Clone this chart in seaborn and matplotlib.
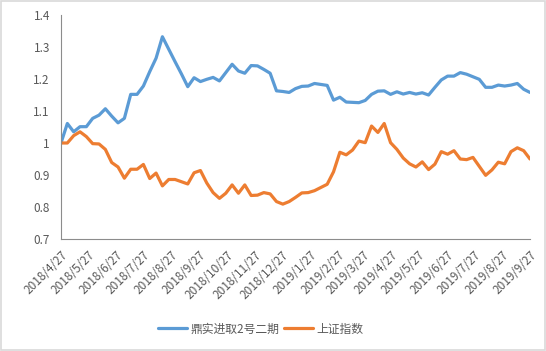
import pandas as pd
import matplotlib.pyplot as plt
import matplotlib.dates as mdates
from matplotlib.patches import Rectangle
import seaborn as sns

# weekly values, 2018/4/27 .. 2019/9/27 (75 Fridays)
start_date = "2018-04-27"
n_weeks = 75

fund = [1.000, 1.061, 1.035, 1.051, 1.051, 1.077, 1.087, 1.107, 1.084, 1.063,
        1.077, 1.152, 1.152, 1.178, 1.223, 1.265, 1.332, 1.293, 1.254, 1.216,
        1.176, 1.204, 1.192, 1.199, 1.205, 1.194, 1.220, 1.246, 1.225, 1.218,
        1.242, 1.241, 1.230, 1.218, 1.163, 1.161, 1.158, 1.170, 1.177, 1.178,
        1.186, 1.183, 1.180, 1.134, 1.143, 1.128, 1.127, 1.126, 1.133, 1.152,
        1.162, 1.163, 1.152, 1.160, 1.153, 1.158, 1.153, 1.157, 1.150, 1.174,
        1.197, 1.209, 1.209, 1.220, 1.215, 1.207, 1.199, 1.174, 1.174, 1.181,
        1.178, 1.181, 1.186, 1.168, 1.158]

index_sh = [1.000, 1.000, 1.023, 1.035, 1.020, 0.998, 0.997, 0.980, 0.939, 0.925,
            0.890, 0.918, 0.918, 0.933, 0.889, 0.906, 0.866, 0.886, 0.886, 0.879,
            0.872, 0.907, 0.914, 0.875, 0.845, 0.827, 0.843, 0.869, 0.843, 0.869,
            0.836, 0.837, 0.845, 0.841, 0.817, 0.809, 0.817, 0.830, 0.844, 0.845,
            0.851, 0.861, 0.871, 0.910, 0.971, 0.963, 0.978, 1.006, 1.001, 1.053,
            1.033, 1.061, 1.001, 0.980, 0.953, 0.935, 0.925, 0.941, 0.917, 0.934,
            0.973, 0.965, 0.976, 0.950, 0.948, 0.955, 0.927, 0.899, 0.916, 0.940,
            0.935, 0.973, 0.985, 0.976, 0.950]

series_names = ["鼎实进取2号二期", "上证指数"]
colors = ["#5B9BD5", "#ED7D31"]

tick_labels = ["2018/4/27", "2018/5/27", "2018/6/27", "2018/7/27", "2018/8/27",
               "2018/9/27", "2018/10/27", "2018/11/27", "2018/12/27", "2019/1/27",
               "2019/2/27", "2019/3/27", "2019/4/27", "2019/5/27", "2019/6/27",
               "2019/7/27", "2019/8/27", "2019/9/27"]
y_ticks = [0.7, 0.8, 0.9, 1.0, 1.1, 1.2, 1.3, 1.4]

dates = pd.date_range(start_date, periods=n_weeks, freq="7D")
df = pd.DataFrame({"date": list(dates) * 2,
                   "value": fund + index_sh,
                   "series": [series_names[0]] * n_weeks + [series_names[1]] * n_weeks})

sns.set_style("white")
plt.rcParams['font.family'] = ['Noto Sans CJK SC', 'DejaVu Sans']

fig = plt.figure(figsize=(5.46, 3.51), dpi=100)
ax = fig.add_axes([61 / 546, 1 - 239 / 351, 469 / 546, 224 / 351])

sns.lineplot(data=df, x="date", y="value", hue="series", palette=colors,
             linewidth=2.3, legend=False, ax=ax)

axis_grey = "#8c8c8c"
text_grey = "#595959"

tick_dates = pd.to_datetime(tick_labels, format="%Y/%m/%d")
ax.set_xticks(tick_dates)
ax.set_xticklabels(tick_labels, rotation=45, ha="right", rotation_mode="anchor",
                   fontsize=8.5, color=text_grey)
ax.set_xlim(tick_dates[0], tick_dates[-1])
ax.set_ylim(0.7, 1.4)
ax.set_yticks(y_ticks)
ax.set_yticklabels([f"{v:g}" for v in y_ticks], fontsize=8.5, color=text_grey)
ax.tick_params(axis="x", length=4, width=0.8, color=axis_grey, pad=3, direction="out")
ax.tick_params(axis="y", length=0, pad=8)
ax.set_xlabel("")
ax.set_ylabel("")

for side in ["top", "right"]:
    ax.spines[side].set_visible(False)
for side in ["left", "bottom"]:
    ax.spines[side].set_color(axis_grey)
    ax.spines[side].set_linewidth(0.8)

handles = ax.get_lines()[:2]
fig.legend(handles, series_names, loc="center", bbox_to_anchor=(0.478, 1 - 329 / 351),
           ncol=2, frameon=False, fontsize=8.5, handlelength=2.4,
           handletextpad=0.35, columnspacing=0.4, labelcolor=text_grey)

# light border round the chart area
fig.patches.append(Rectangle((0.001, 0.002), 0.997, 0.995, transform=fig.transFigure,
                             fill=False, edgecolor="#d9d9d9", linewidth=1.2))

fig.savefig("out.png", dpi=100)
